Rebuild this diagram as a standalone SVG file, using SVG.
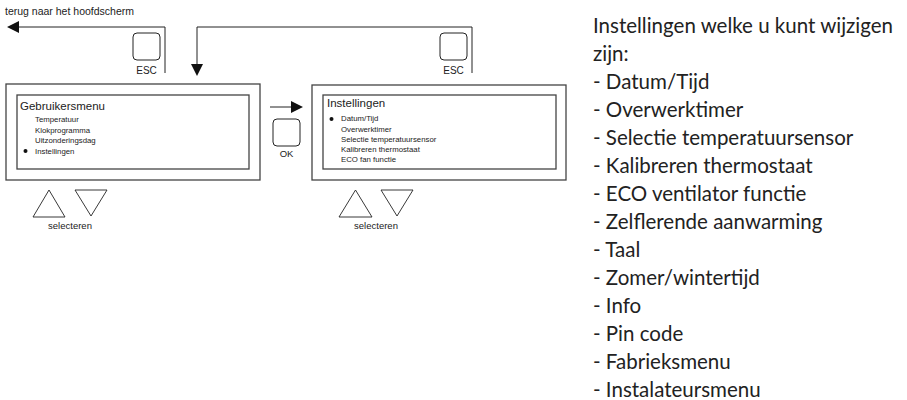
<svg xmlns="http://www.w3.org/2000/svg" width="907" height="400" viewBox="0 0 907 400">
<style>
.frame{fill:none;stroke:#444;stroke-width:1.3}
.btn{fill:none;stroke:#222;stroke-width:1}
.line{fill:none;stroke:#222;stroke-width:1}
.tri{fill:none;stroke:#222;stroke-width:0.9}
.s{font-family:"Liberation Sans",Arial,sans-serif;fill:#222}
.item{font-size:7.8px}
.list{font-family:Lato,"Open Sans",sans-serif;font-size:20.5px;fill:#222}
</style>
<defs>
<marker id="ah" viewBox="0 0 12 12" refX="0" refY="6" markerWidth="12" markerHeight="12" markerUnits="userSpaceOnUse" orient="auto">
<path d="M0,0 L12,6 L0,12 Z" fill="#111"/>
</marker>
</defs>
<text class="s" x="5" y="15" font-size="10.5">terug naar het hoofdscherm</text>
<g id="connectors">
<path class="line" d="M165,73 V27 H19" marker-end="url(#ah)"/>
<path class="line" d="M472,73 V27 H197 V64" marker-end="url(#ah)"/>
<path class="line" d="M270,107 H291" marker-end="url(#ah)"/>
</g>
<g id="esc-left">
<rect class="btn" x="133" y="33" width="27" height="27" rx="4"/>
<text class="s" x="146.5" y="74" font-size="10" text-anchor="middle">ESC</text>
</g>
<g id="esc-right">
<rect class="btn" x="440" y="33" width="27" height="27" rx="4"/>
<text class="s" x="453.5" y="74" font-size="10" text-anchor="middle">ESC</text>
</g>
<g id="ok">
<rect class="btn" x="273" y="119" width="27" height="27" rx="4"/>
<text class="s" x="286.5" y="157" font-size="9.5" text-anchor="middle">OK</text>
</g>
<g id="gebruikersmenu">
<rect class="frame" x="6" y="84" width="254" height="96"/>
<rect class="frame" x="17" y="95" width="232" height="74"/>
<text class="s" x="20" y="110" font-size="11.5">Gebruikersmenu</text>
<text class="s item" x="35" y="122">Temperatuur</text>
<text class="s item" x="35" y="132.5">Klokprogramma</text>
<text class="s item" x="35" y="143">Uitzonderingsdag</text>
<circle cx="25.5" cy="151" r="2" fill="#111"/>
<text class="s item" x="35" y="153.5">Instellingen</text>
</g>
<g id="instellingen">
<rect class="frame" x="312" y="85" width="254" height="95"/>
<rect class="frame" x="323" y="95" width="233" height="74"/>
<text class="s" x="327" y="107" font-size="11.5">Instellingen</text>
<circle cx="331.5" cy="119" r="2" fill="#111"/>
<text class="s item" x="341" y="121">Datum/Tijd</text>
<text class="s item" x="341" y="131.5">Overwerktimer</text>
<text class="s item" x="341" y="141.5">Selectie temperatuursensor</text>
<text class="s item" x="341" y="151.5">Kalibreren thermostaat</text>
<text class="s item" x="341" y="161.5">ECO fan functie</text>
</g>
<g id="select-left">
<path class="tri" d="M49,190 L33,217 L65,217 Z"/>
<path class="tri" d="M75,190 L107,190 L91,216 Z"/>
<text class="s" x="70" y="229" font-size="9.5" text-anchor="middle">selecteren</text>
</g>
<g id="select-right">
<path class="tri" d="M355.5,190 L339,217 L372,217 Z"/>
<path class="tri" d="M381,190 L413,190 L397,216 Z"/>
<text class="s" x="376" y="229" font-size="9.5" text-anchor="middle">selecteren</text>
</g>
<g id="settings-list">
<text class="list" x="593" y="33">Instellingen welke u kunt wijzigen</text>
<text class="list" x="593" y="61">zijn:</text>
<text class="list" x="593" y="89">- Datum/Tijd</text>
<text class="list" x="593" y="117">- Overwerktimer</text>
<text class="list" x="593" y="145">- Selectie temperatuursensor</text>
<text class="list" x="593" y="173">- Kalibreren thermostaat</text>
<text class="list" x="593" y="201">- ECO ventilator functie</text>
<text class="list" x="593" y="229">- Zelflerende aanwarming</text>
<text class="list" x="593" y="257">- Taal</text>
<text class="list" x="593" y="285">- Zomer/wintertijd</text>
<text class="list" x="593" y="313">- Info</text>
<text class="list" x="593" y="341">- Pin code</text>
<text class="list" x="593" y="369">- Fabrieksmenu</text>
<text class="list" x="593" y="397">- Instalateursmenu</text>
</g>
</svg>
